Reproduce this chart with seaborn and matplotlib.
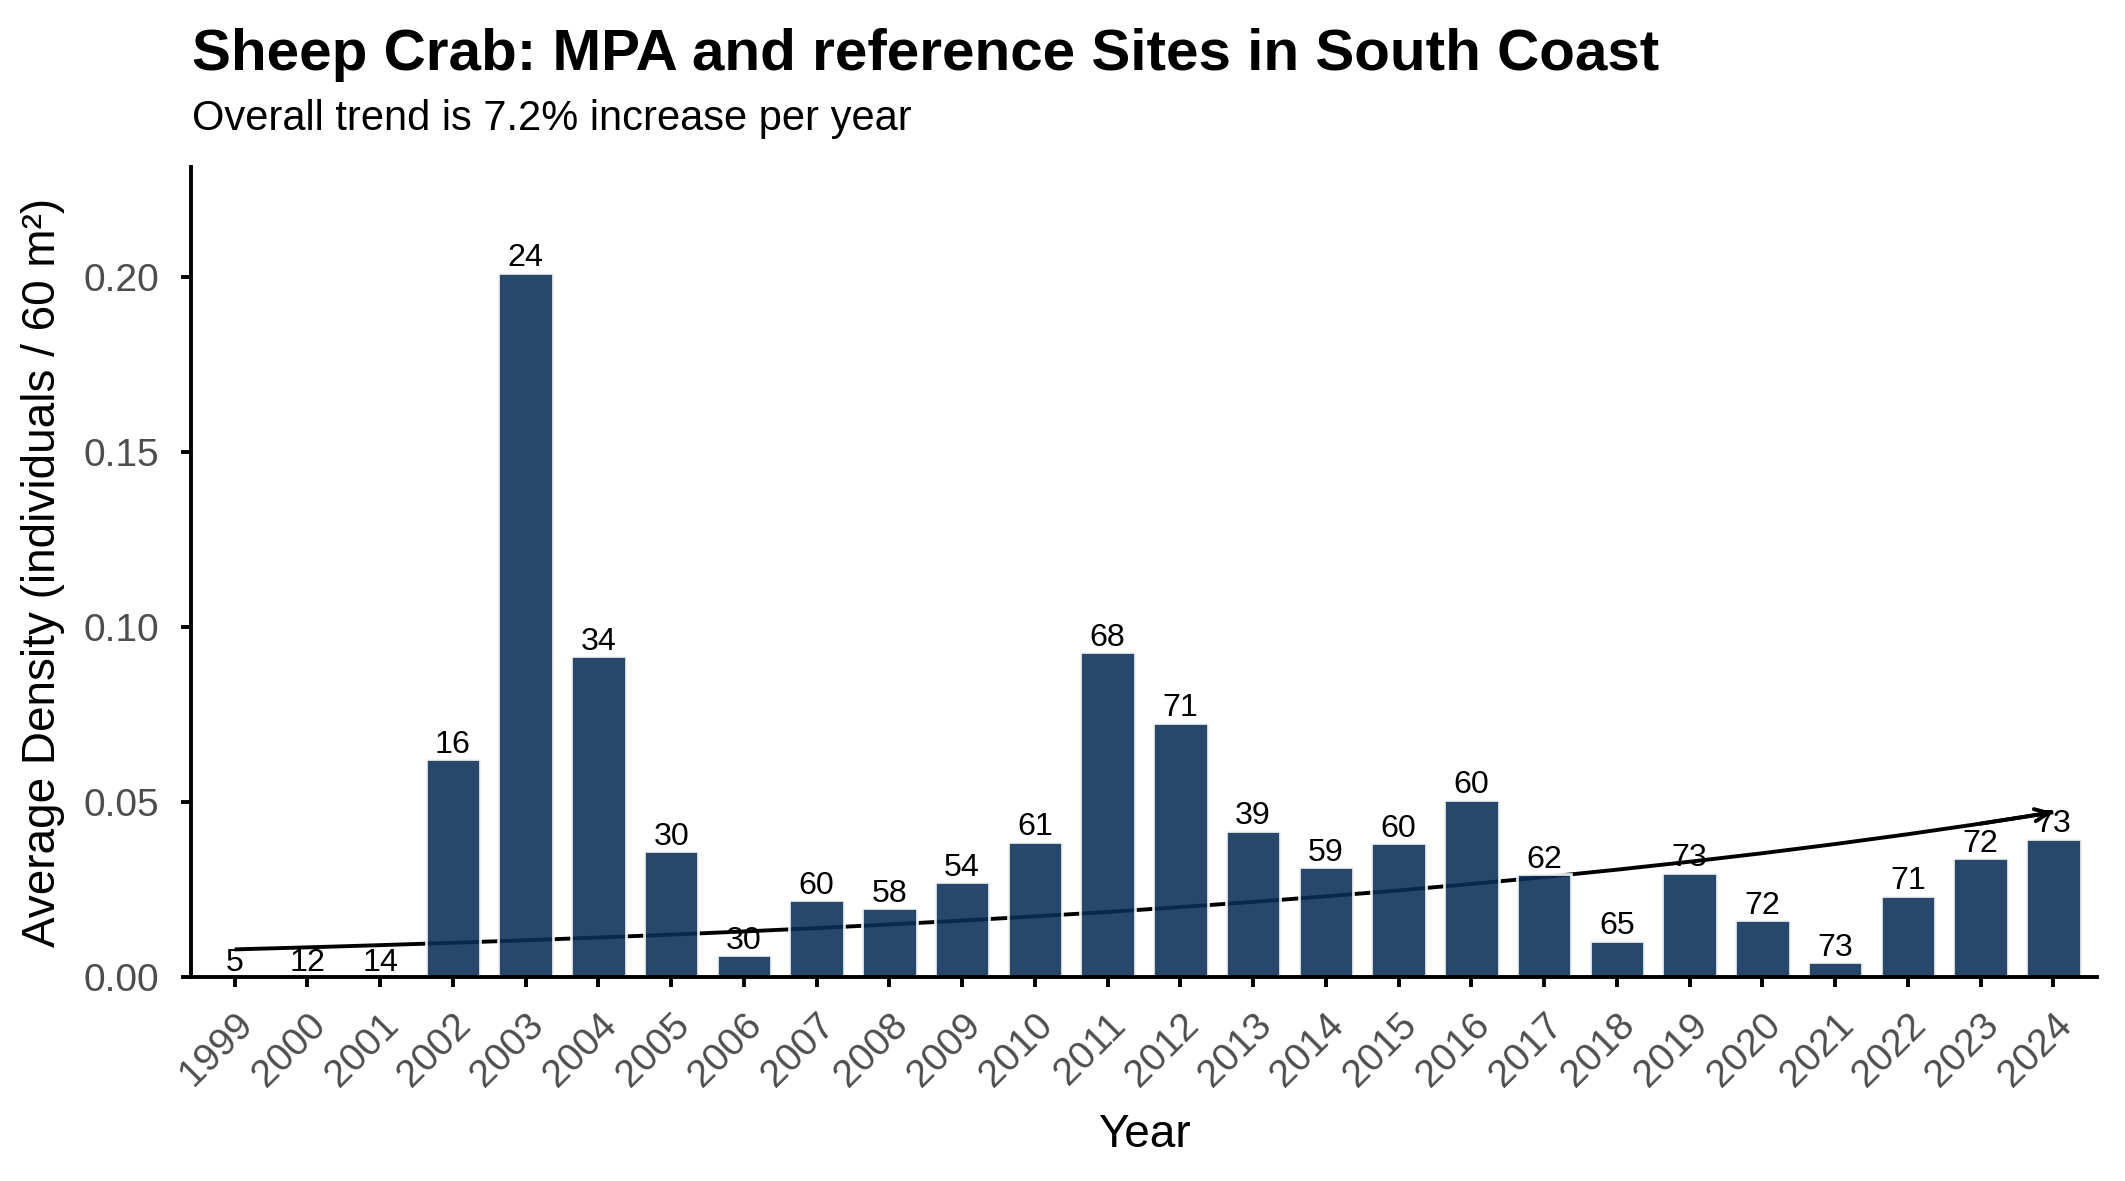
import matplotlib
matplotlib.use("Agg")
import matplotlib.pyplot as plt
import seaborn as sns
import pandas as pd

years = [str(y) for y in range(1999, 2025)]
density = [0.0, 0.0, 0.0, 0.0623, 0.2012, 0.0917, 0.0360, 0.0062, 0.0220, 0.0197,
           0.0271, 0.0387, 0.0928, 0.0727, 0.0418, 0.0313, 0.0383, 0.0507, 0.0294,
           0.0104, 0.0298, 0.0162, 0.0043, 0.0232, 0.0340, 0.0395]
n_samples = [5, 12, 14, 16, 24, 34, 30, 30, 60, 58, 54, 61, 68, 71, 39, 59, 60, 60,
             62, 65, 73, 72, 73, 71, 72, 73]
trend = [0.00790, 0.00848, 0.00911, 0.00979, 0.01051, 0.01129, 0.01212, 0.01302,
         0.01398, 0.01502, 0.01613, 0.01732, 0.01860, 0.01998, 0.02146, 0.02305,
         0.02475, 0.02659, 0.02855, 0.03067, 0.03294, 0.03537, 0.03799, 0.04080,
         0.04382, 0.04707]

title = "Sheep Crab: MPA and reference Sites in South Coast"
subtitle = "Overall trend is 7.2% increase per year"

df = pd.DataFrame({"year": years, "density": density, "n": n_samples, "trend": trend})

sns.set_style("ticks")
plt.rcParams["font.family"] = ["Liberation Sans", "DejaVu Sans"]
plt.rcParams["text.color"] = "black"
plt.rcParams["axes.labelcolor"] = "black"

fig = plt.figure(figsize=(10.625, 5.905), dpi=200)
ax = fig.add_axes([0.0899, 0.1727, 0.9868 - 0.0899, 0.8586 - 0.1727])

# trend line (behind bars)
xs = list(range(len(years)))
ax.plot(xs, df["trend"], color="black", lw=1.4, zorder=1, solid_capstyle="butt")
ax.annotate("", xy=(xs[-1], trend[-1]), xytext=(xs[-2], trend[-2]),
            arrowprops=dict(arrowstyle="->,head_length=0.5,head_width=0.22",
                            color="black", lw=1.4, shrinkA=0, shrinkB=0),
            zorder=1)

sns.barplot(data=df, x="year", y="density", color="#0a2f57", saturation=1,
            width=0.75, alpha=0.88, ax=ax, zorder=2, errorbar=None)

for cont in ax.containers:
    ax.bar_label(cont, labels=[str(v) for v in n_samples], padding=-0.2,
                 fontsize=11.6, color="black", zorder=3)

ax.set_xlim(-0.6, len(years) - 0.4)
ax.set_ylim(0, 0.2314)
ax.set_yticks([0.0, 0.05, 0.10, 0.15, 0.20])
ax.set_yticklabels(["0.00", "0.05", "0.10", "0.15", "0.20"])

for s in ["top", "right"]:
    ax.spines[s].set_visible(False)
for s in ["left", "bottom"]:
    ax.spines[s].set_linewidth(1.4)
    ax.spines[s].set_color("black")

ax.tick_params(axis="both", length=3.6, width=1.4, color="black",
               labelsize=14, labelcolor="#4d4d4d")
ax.tick_params(axis="y", pad=8)
ax.tick_params(axis="x", pad=7)
plt.setp(ax.get_xticklabels(), rotation=45, ha="right", va="top",
         rotation_mode="anchor")

ax.set_xlabel("Year", fontsize=16.5, color="black")
ax.set_ylabel("Average Density (individuals / 60 m²)", fontsize=16.5,
              color="black")
ax.xaxis.set_label_coords(0.5, -0.168)
ax.yaxis.set_label_coords(-0.0661, 0.5)

fig.text(192 / 2125, 1 - 70 / 1181, title, fontsize=21, fontweight="bold",
         ha="left", va="baseline", color="black")
fig.text(192 / 2125, 1 - 130 / 1181, subtitle, fontsize=15, ha="left",
         va="baseline", color="black")

fig.savefig("out.png", dpi=200)
